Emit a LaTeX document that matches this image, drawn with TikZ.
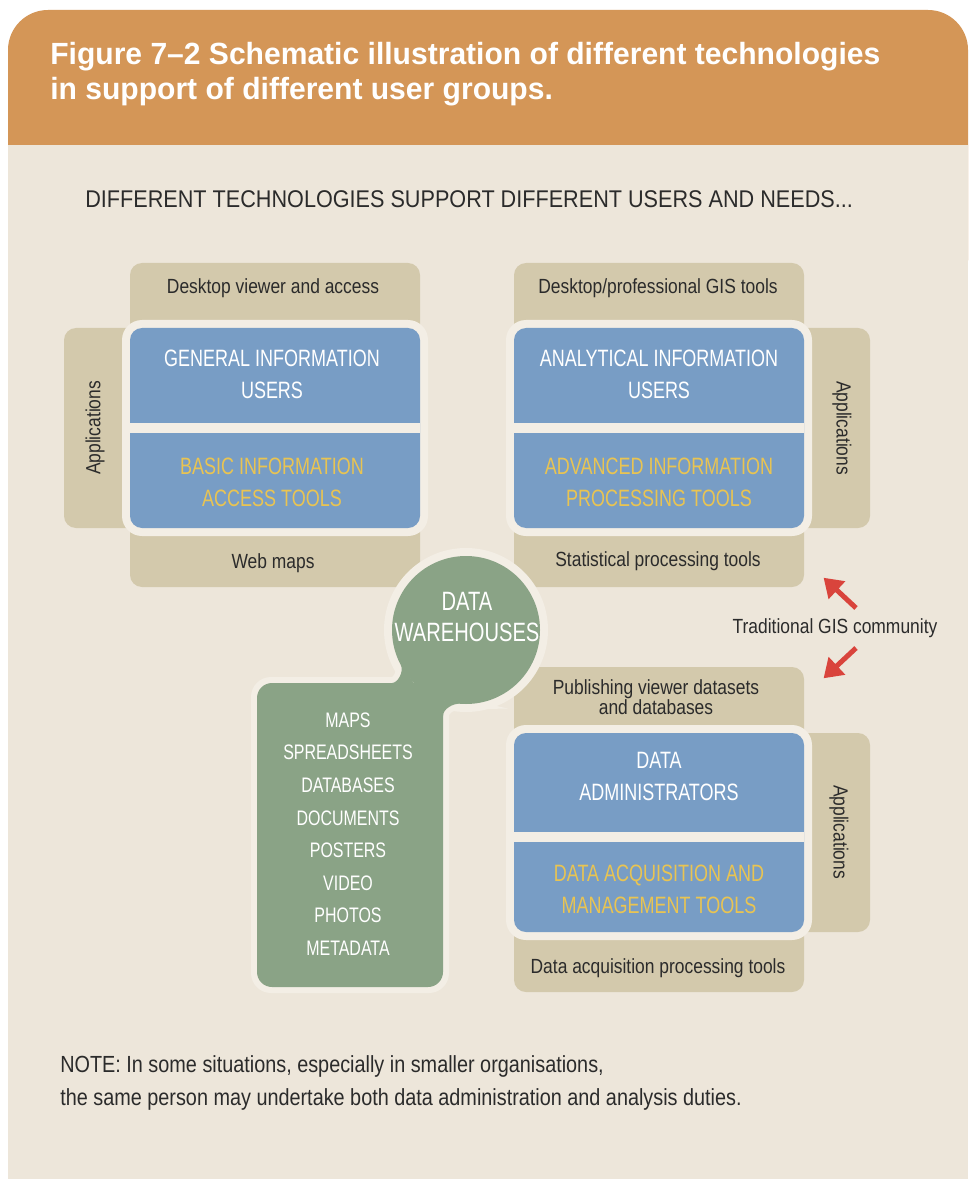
\documentclass[tikz,border=0pt]{standalone}
\usepackage{fontspec}
\setmainfont{Liberation Sans}
\newfontfamily\ttlfont{Liberation Sans}[FakeStretch=0.98]
\newfontfamily\subfont{Liberation Sans}[FakeStretch=0.895]
\newfontfamily\lblfont{Liberation Sans}[FakeStretch=0.85]
\newfontfamily\capfont{Liberation Sans}[FakeStretch=0.76]
\usetikzlibrary{arrows.meta}
\definecolor{hdr}{HTML}{D49657}
\definecolor{bodybg}{HTML}{EDE6DA}
\definecolor{tanc}{HTML}{D3C9AC}
\definecolor{bluebx}{HTML}{789DC5}
\definecolor{yel}{HTML}{E9C452}
\definecolor{grn}{HTML}{8AA386}
\definecolor{band}{HTML}{F3EEE5}
\definecolor{redarrow}{HTML}{D9443C}
\definecolor{ink}{HTML}{2B2B2B}
\tikzset{
  lbl/.style={font=\lblfont\fontsize{12.3}{12}\selectfont, text=ink, align=center, inner sep=0pt},
  bluetxt/.style={font=\capfont\fontsize{14.2}{19.2}\selectfont, text=white, align=center, inner sep=0pt},
  tooltxt/.style={bluetxt, text=yel},
  listtxt/.style={font=\capfont\fontsize{12.6}{19.56}\selectfont, text=white, align=center, inner sep=0pt},
  whtxt/.style={font=\capfont\fontsize{15.9}{18.6}\selectfont, text=white, align=center, inner sep=0pt},
  tanshape/.style={fill=tanc, rounded corners=7.2pt},
  bandshape/.style={fill=band, rounded corners=12pt},
  blueshape/.style={fill=bluebx, rounded corners=7.2pt},
  titletxt/.style={font=\ttlfont\bfseries\fontsize{18.4}{21}\selectfont, text=white, inner sep=0pt, anchor=base west},
  subtxt/.style={font=\subfont\fontsize{14.5}{17}\selectfont, text=ink, inner sep=0pt, anchor=base west},
  notetxt/.style={font=\lblfont\fontsize{14}{17}\selectfont, text=ink, inner sep=0pt, anchor=base west},
  redarr/.style={draw=redarrow, line width=3pt, -{Triangle[length=11pt,width=14pt]}, shorten >=-2pt}
}
\begin{document}
\begin{tikzpicture}[x=0.6pt,y=-0.6pt]
\useasboundingbox (0,0) rectangle (970,1179);
\fill[white] (0,0) rectangle (970,1179);
% header and body
\fill[hdr, rounded corners=24pt] (8,10) rectangle (968,300);
\fill[bodybg] (8,145) rectangle (968,1179);
\node[titletxt] (title1) at (50,65) {Figure 7–2 Schematic illustration of different technologies};
\node[titletxt] (title2) at (50,100) {in support of different user groups.};
\node[subtxt] (sub) at (85,208) {DIFFERENT TECHNOLOGIES SUPPORT DIFFERENT USERS AND NEEDS...};

% ---------- tan shapes ----------
% top-left block
\fill[tanshape] (130,263) rectangle (420,360);
\fill[tanshape] (64,328) rectangle (160,528);
\fill[tanshape] (130,500) rectangle (420,587);
% top-right block
\fill[tanshape] (514,263) rectangle (804,360);
\fill[tanshape] (780,328) rectangle (870,528);
\fill[tanshape] (514,500) rectangle (804,587);
% bottom-right block
\fill[tanshape] (514,667) rectangle (804,760);
\fill[tanshape] (780,733) rectangle (870,932);
\fill[tanshape] (514,900) rectangle (804,992);

% ---------- blue frames ----------
\fill[bandshape] (122,320) rectangle (428,536);
\fill[blueshape] (130,328) rectangle (420,528);
\fill[band] (130,423) rectangle (420,433);

\fill[bandshape] (506,320) rectangle (812,536);
\fill[blueshape] (514,328) rectangle (804,528);
\fill[band] (514,423) rectangle (804,433);

\fill[bandshape] (506,725) rectangle (812,940);
\fill[blueshape] (514,733) rectangle (804,932);
\fill[band] (514,832) rectangle (804,842);

% ---------- data warehouse + green box ----------
\fill[band] (466,630) circle[radius=49.2pt];
\fill[band, rounded corners=12pt] (251,677) rectangle (449,993);
\draw[band, fill=band, line width=7pt] (392,683) .. controls (398,683) and (404.1,671.2) .. (400.8,665) -- (414,683) -- cycle;
\draw[band, fill=band, line width=7pt] (443,716) .. controls (443,709) and (453,703.2) .. (460,703.8) -- (443,700) -- cycle;
\fill[grn] (466,630) circle[radius=44.4pt];
\fill[grn, rounded corners=9pt] (257,683) rectangle (443,987);
\fill[grn] (392,683) .. controls (398,683) and (404.1,671.2) .. (400.8,665) -- (414,683) -- cycle;
\fill[grn] (443,716) .. controls (443,709) and (453,703.2) .. (460,703.8) -- (443,700) -- cycle;

% ---------- texts: top-left ----------
\node[lbl, anchor=base] (tlTop) at (273,294) {Desktop viewer and access};
\node[lbl, anchor=base] (tlBot) at (273,568) {Web maps};
\node[bluetxt] (genusers) at (272,374.5) {GENERAL INFORMATION\\USERS};
\node[tooltxt] (basictools) at (272,482) {BASIC INFORMATION\\ACCESS TOOLS};
\node[lbl, rotate=90] (tlApp) at (95,428) {Applications};

% ---------- texts: top-right ----------
\node[lbl, anchor=base] (trTop) at (658,294) {Desktop/professional GIS tools};
\node[lbl, anchor=base] (trBot) at (658,566) {Statistical processing tools};
\node[bluetxt] (anausers) at (659,374.5) {ANALYTICAL INFORMATION\\USERS};
\node[tooltxt] (advtools) at (659,482) {ADVANCED INFORMATION\\PROCESSING TOOLS};
\node[lbl, rotate=-90] (trApp) at (842,428) {Applications};

% ---------- texts: bottom-right ----------
\node[lbl, anchor=north] (brTop) at (656,679) {Publishing viewer datasets\\and databases};
\node[lbl, anchor=base] (brBot) at (658,973) {Data acquisition processing tools};
\node[bluetxt] (admins) at (659,776.5) {DATA\\ADMINISTRATORS};
\node[tooltxt] (acqtools) at (659,889) {DATA ACQUISITION AND\\MANAGEMENT TOOLS};
\node[lbl, rotate=-90] (brApp) at (839,832) {Applications};

% ---------- data warehouses ----------
\node[whtxt] (dw) at (467,617) {DATA\\WAREHOUSES};
\node[listtxt] (dlist) at (348,834) {MAPS\\SPREADSHEETS\\DATABASES\\DOCUMENTS\\POSTERS\\VIDEO\\PHOTOS\\METADATA};

% ---------- GIS community ----------
\node[lbl, anchor=base] (gis) at (835,633) {Traditional GIS community};
\coordinate (a1s) at (856,608);
\coordinate (a1e) at (826,580);
\coordinate (a2s) at (856,648);
\coordinate (a2e) at (826,676);
\draw[redarr] (a1s) -- (a1e);
\draw[redarr] (a2s) -- (a2e);

% ---------- note ----------
\node[notetxt] (note1) at (60,1072) {NOTE: In some situations, especially in smaller organisations,};
\node[notetxt] (note2) at (60,1105) {the same person may undertake both data administration and analysis duties.};
\end{tikzpicture}
\end{document}
